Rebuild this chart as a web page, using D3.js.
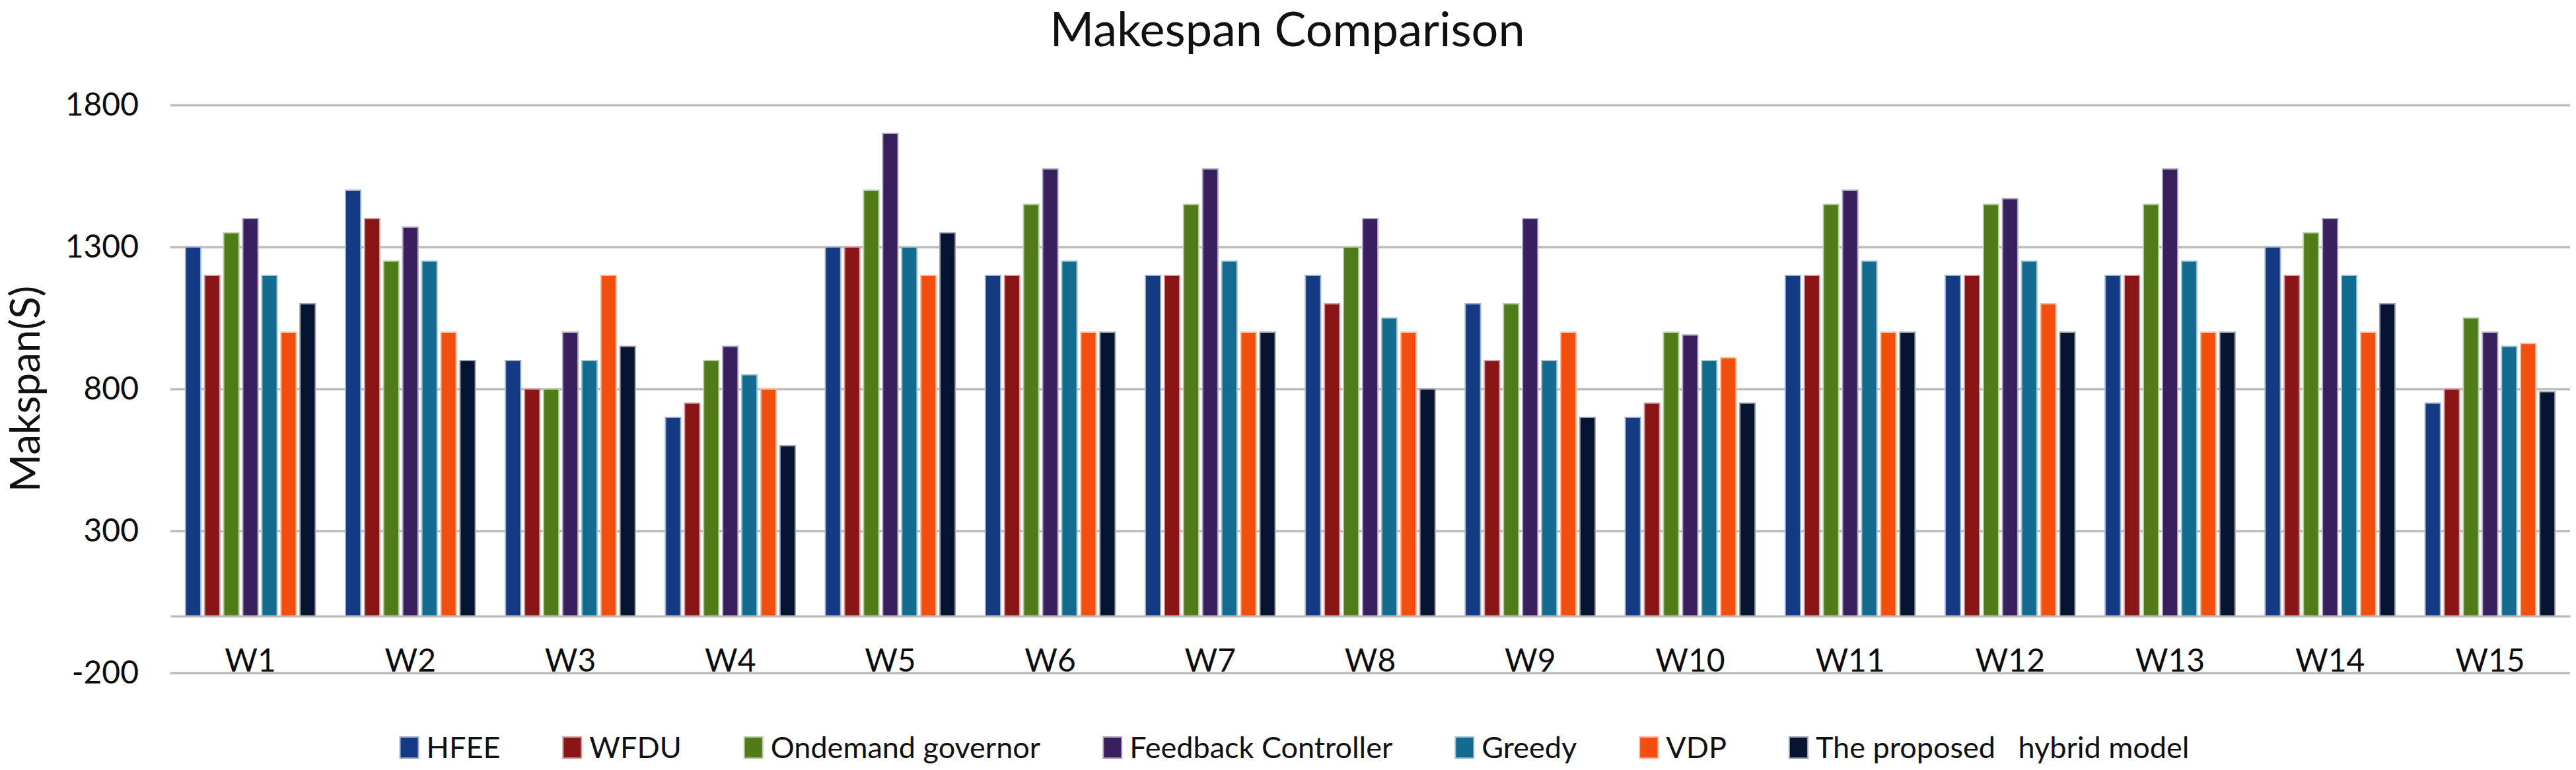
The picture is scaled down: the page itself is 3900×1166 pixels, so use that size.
<!DOCTYPE html>
<html>
<head>
<meta charset="utf-8">
<script src="https://cdnjs.cloudflare.com/ajax/libs/d3/7.8.5/d3.min.js"></script>
<style>
  body { margin: 0; background: #fff; }
  text { font-family: Lato, "Open Sans", sans-serif; fill: #111; }
</style>
</head>
<body>
<div id="chart"></div>
<script>
// categories and series
var categories = ["W1","W2","W3","W4","W5","W6","W7","W8","W9","W10","W11","W12","W13","W14","W15"];
var seriesNames = ["HFEE","WFDU","Ondemand governor","Feedback Controller","Greedy","VDP","The proposed   hybrid model"];
var seriesColors = ["#133a82","#8a1516","#4f7c19","#391f5e","#136b90","#f24f0e","#071431"];

var hfee     = [1300,1500, 900, 700,1300,1200,1200,1200,1100, 700,1200,1200,1200,1300, 750];
var wfdu     = [1200,1400, 800, 750,1300,1200,1200,1100, 900, 750,1200,1200,1200,1200, 800];
var ondemand = [1350,1250, 800, 900,1500,1450,1450,1300,1100,1000,1450,1450,1450,1350,1050];
var feedback = [1400,1370,1000, 950,1700,1575,1575,1400,1400, 990,1500,1470,1575,1400,1000];
var greedy   = [1200,1250, 900, 850,1300,1250,1250,1050, 900, 900,1250,1250,1250,1200, 950];
var vdp      = [1000,1000,1200, 800,1200,1000,1000,1000,1000, 910,1000,1100,1000,1000, 960];
var hybrid   = [1100, 900, 950, 600,1350,1000,1000, 800, 700, 750,1000,1000,1000,1100, 790];

var yTicks = [-200, 300, 800, 1300, 1800];

var seriesValues = [hfee, wfdu, ondemand, feedback, greedy, vdp, hybrid];

var width = 3900, height = 1166;
var plotLeft = 258, plotRight = 3891, plotTop = 159, plotBottom = 1019;

var svg = d3.select("#chart").append("svg")
    .attr("width", width)
    .attr("height", height);

// Scales
var x0 = d3.scaleBand()
    .domain(categories)
    .range([plotLeft, plotRight])
    .padding(0);

var x1 = d3.scaleBand()
    .domain(seriesNames)
    .range([0, x0.bandwidth()])
    .paddingInner(0.2)
    .paddingOuter(0.79);

var y = d3.scaleLinear()
    .domain([-200, 1800])
    .range([plotBottom, plotTop]);

// Grid lines + y tick labels
var yAxis = d3.axisLeft(y)
    .tickValues(yTicks)
    .tickFormat(function(d) { return d < 0 ? "-" + Math.abs(d) : String(d); })
    .tickSize(-(plotRight - plotLeft))
    .tickPadding(48);

var gy = svg.append("g")
    .attr("transform", "translate(" + plotLeft + ",0)")
    .call(yAxis);
gy.select(".domain").remove();
gy.selectAll(".tick line")
    .attr("stroke", "#bcbcbc")
    .attr("stroke-width", 3.5);
gy.selectAll(".tick text")
    .style("font-size", "48px")
    .style("fill", "#0d0d0d")
    .attr("dy", "0.33em");

// Bars
var groups = svg.append("g")
  .selectAll("g")
  .data(categories)
  .join("g")
    .attr("transform", function(d) { return "translate(" + x0(d) + ",0)"; });

groups.selectAll("rect")
  .data(function(d, i) {
      return seriesNames.map(function(s, k) { return {key: s, value: seriesValues[k][i], color: seriesColors[k]}; });
  })
  .join("rect")
    .attr("x", function(d) { return x1(d.key); })
    .attr("y", function(d) { return y(d.value); })
    .attr("width", x1.bandwidth())
    .attr("height", function(d) { return y(0) - y(d.value); })
    .attr("fill", function(d) { return d.color; })
    .attr("stroke", function(d) { return d3.interpolateRgb(d.color, "#ffffff")(0.6); })
    .attr("stroke-width", 2);

// Category axis along zero
var xAxis = d3.axisBottom(x0)
    .tickSize(0)
    .tickSizeOuter(0);

var gx = svg.append("g")
    .attr("transform", "translate(0," + y(0) + ")")
    .call(xAxis);
gx.select(".domain")
    .attr("stroke", "#bcbcbc")
    .attr("stroke-width", 3.5);
gx.selectAll(".tick text")
    .style("font-size", "48px")
    .style("fill", "#0d0d0d")
    .attr("y", y(-200) - y(0) - 2)
    .attr("dy", 0);

// Title
svg.append("text")
    .attr("x", 1949)
    .attr("y", 70)
    .attr("text-anchor", "middle")
    .style("font-size", "72px")
    .text("Makespan Comparison");

// Y axis title
svg.append("text")
    .attr("transform", "translate(60," + ((plotTop + plotBottom) / 2) + ") rotate(-90)")
    .attr("text-anchor", "middle")
    .style("font-size", "62px")
    .text("Makspan(S)");

// Legend
var legendGap = 95;
var legend = svg.append("g");
var cursor = 0;
seriesNames.forEach(function(name, k) {
    var item = legend.append("g").attr("transform", "translate(" + cursor + ",0)");
    item.append("rect")
        .attr("x", 0).attr("y", -16)
        .attr("width", 28).attr("height", 32)
        .attr("fill", seriesColors[k])
        .attr("stroke", d3.interpolateRgb(seriesColors[k], "#ffffff")(0.6))
        .attr("stroke-width", 2);
    var t = item.append("text")
        .attr("x", 40).attr("y", 0)
        .attr("dy", "0.35em")
        .style("font-size", "45px")
        .style("white-space", "pre")
        .text(name);
    cursor += 40 + t.node().getComputedTextLength() + legendGap;
});
var legendWidth = cursor - legendGap;
legend.attr("transform", "translate(" + (1960 - legendWidth / 2) + ",1132)");
</script>
</body>
</html>
